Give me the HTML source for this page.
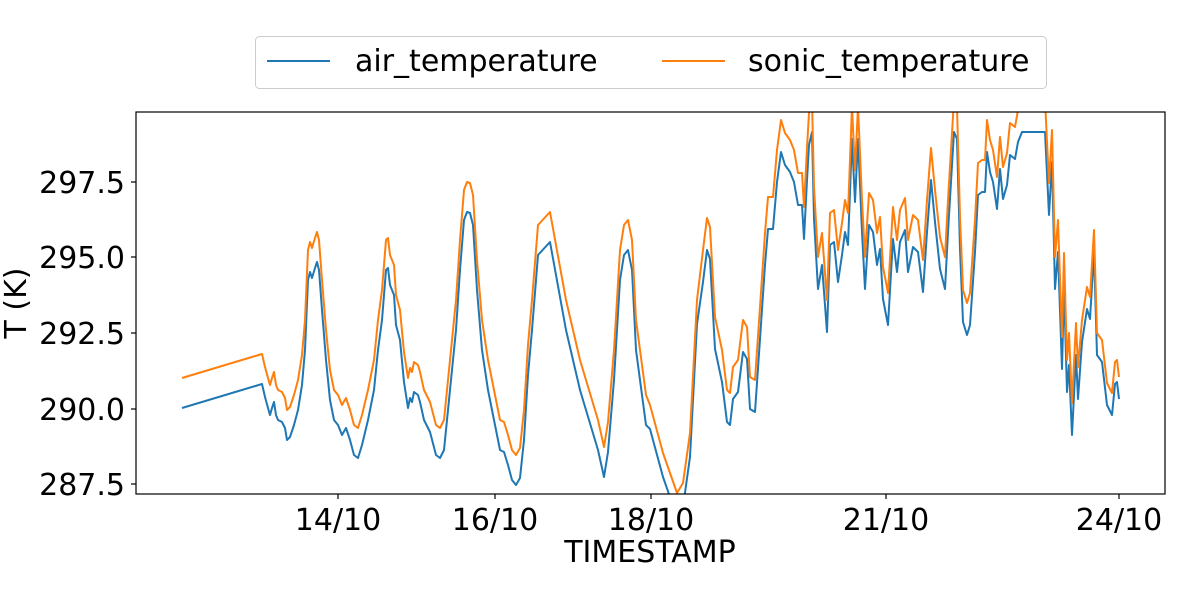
<!DOCTYPE html>
<html><head><meta charset="utf-8"><style>
body{margin:0;background:#fff;}
svg{display:block;font-family:"DejaVu Sans","Liberation Sans",sans-serif;}
</style></head><body>
<svg width="1200" height="600" viewBox="0 0 1200 600" xmlns="http://www.w3.org/2000/svg">
<defs><clipPath id="c"><rect x="136" y="112" width="1029" height="382"/></clipPath></defs>
<g clip-path="url(#c)" fill="none" stroke-width="2" stroke-linejoin="round">
<g id="lines"></g>
</g>
<rect x="136" y="112" width="1029" height="382" fill="none" stroke="#000" stroke-width="1.2"/>
<g stroke="#000" stroke-width="1.2">
<line x1="131" y1="182" x2="136" y2="182"/><line x1="131" y1="257" x2="136" y2="257"/>
<line x1="131" y1="333" x2="136" y2="333"/><line x1="131" y1="409" x2="136" y2="409"/>
<line x1="131" y1="484" x2="136" y2="484"/>
<line x1="338" y1="494" x2="338" y2="499"/><line x1="495" y1="494" x2="495" y2="499"/>
<line x1="651" y1="494" x2="651" y2="499"/><line x1="886" y1="494" x2="886" y2="499"/>
<line x1="1119" y1="494" x2="1119" y2="499"/>
</g>
<g font-size="30" text-anchor="end" fill="#000">
<text x="125" y="193">297.5</text><text x="125" y="268">295.0</text>
<text x="125" y="344">292.5</text><text x="125" y="420">290.0</text>
<text x="125" y="495">287.5</text>
</g>
<g font-size="30" text-anchor="middle" fill="#000">
<text x="338" y="530">14/10</text><text x="495" y="530">16/10</text>
<text x="651" y="530">18/10</text><text x="886" y="530">21/10</text>
<text x="1119" y="530">24/10</text>
<text x="650" y="562">TIMESTAMP</text>
<text transform="translate(26,303) rotate(-90)">T (K)</text>
</g>
<rect x="255.5" y="36.5" width="791" height="52" rx="4" fill="#fff" stroke="#ccc" stroke-width="1"/>
<line x1="267" y1="61" x2="330" y2="61" stroke="#1f77b4" stroke-width="2"/>
<text x="355" y="71" font-size="30">air_temperature</text>
<line x1="662" y1="61" x2="725" y2="61" stroke="#ff7f0e" stroke-width="2"/>
<text x="748" y="71" font-size="30">sonic_temperature</text>
</svg>
<script>
var o=[[182,378],[262,354],[265,367],[268,378],[270,385],[272,378],[274,372],[276,385],[278,390],[282,392],[285,398],[287,410],[290,407],[294,395],[298,380],[302,355],[305,320],[308,250],[310,242],[312,248],[315,238],[317,232],[319,240],[322,280],[326,330],[330,370],[334,390],[338,395],[342,405],[346,398],[350,410],[354,425],[358,428],[362,415],[368,390],[374,360],[378,320],[382,290],[386,240],[388,238],[390,255],[394,265],[396,295],[400,310],[404,352],[408,378],[410,368],[412,372],[414,362],[418,365],[420,372],[424,390],[430,402],[436,425],[440,428],[444,420],[450,360],[456,300],[460,240],[464,190],[467,182],[470,183],[473,195],[477,260],[482,320],[488,360],[494,390],[500,420],[504,422],[508,435],[512,450],[516,455],[520,448],[524,410],[528,345],[532,300],[538,225],[550,212],[566,300],[580,360],[598,420],[604,447],[608,422],[614,350],[620,250],[624,225],[628,220],[632,240],[636,320],[640,350],[646,395],[650,405],[663,453],[677,493],[683,483],[690,433],[697,300],[703,250],[707,218],[710,227],[715,317],[722,350],[727,390],[730,393],[733,367],[738,360],[743,320],[747,327],[750,377],[755,380],[760,307],[765,233],[768,197],[773,197],[777,150],[781,120],[785,133],[790,140],[794,150],[798,173],[802,173],[804,207],[807,148],[809,113],[812,100],[814,187],[818,257],[822,233],[827,300],[830,213],[834,210],[838,250],[842,223],[845,200],[848,213],[852,107],[855,170],[858,107],[862,200],[865,257],[869,193],[873,200],[877,233],[880,217],[883,267],[888,293],[893,207],[897,240],[900,210],[905,198],[908,240],[913,215],[918,220],[923,260],[927,200],[931,148],[935,190],[940,237],[945,257],[948,200],[952,133],[954,100],[957,107],[960,217],[963,290],[967,303],[970,293],[975,220],[978,163],[982,160],[985,160],[987,120],[990,140],[993,150],[997,177],[1000,137],[1003,167],[1007,153],[1010,123],[1015,127],[1018,110],[1022,100],[1045,100],[1049,183],[1052,130],[1055,257],[1058,220],[1062,337],[1064,253],[1067,360],[1069,333],[1072,403],[1076,323],[1078,367],[1082,320],[1087,287],[1090,297],[1094,230],[1097,333],[1102,340],[1107,383],[1112,393],[1115,362],[1117,360],[1119,377]];
function off(x){if(x<650)return 30;if(x<700)return 24;if(x<1080)return 32;return 22;}
var ps=o.map(p=>p[0]+","+p[1]).join(" ");
var pb=o.map(p=>p[0]+","+(p[1]+off(p[0]))).join(" ");
document.getElementById("lines").innerHTML='<polyline points="'+pb+'" stroke="#1f77b4"/><polyline points="'+ps+'" stroke="#ff7f0e"/>';
</script>
</body></html>
